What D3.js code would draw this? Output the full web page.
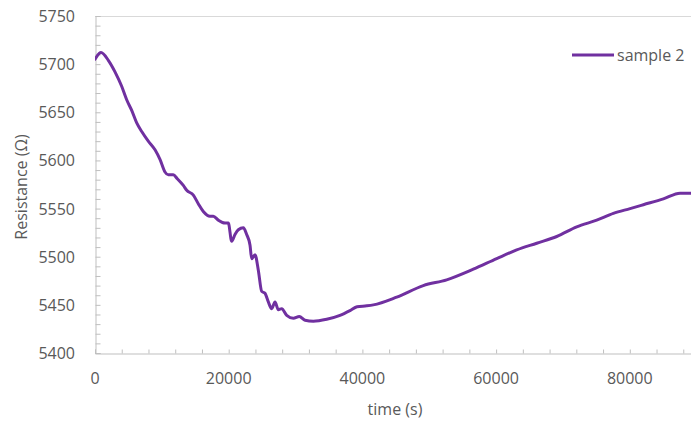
<!DOCTYPE html>
<html><head><meta charset="utf-8">
<script src="https://cdn.jsdelivr.net/npm/d3@7"></script>
<style>
html,body{margin:0;padding:0;background:#fff;}
svg text{font-family:"Open Sans",sans-serif;fill:#595959;}
</style></head>
<body><svg id="c" width="691" height="423"></svg>
<script>
const seriesName = "sample 2";
const timeS = [0,900,1990,2990,3990,4740,5490,6240,6990,7970,8980,9720,10470,10970,11710,12310,13210,13720,14710,15450,16200,17200,17700,18450,19450,19940,20450,20940,21440,22190,22690,23190,23440,23940,24430,24940,25430,25930,26430,26930,27420,27930,28680,29670,30560,31420,32660,34660,36650,38150,39200,40650,41630,45130,49110,52610,56590,60090,63080,66080,69070,72060,75050,77540,80040,82030,85020,87520,89160,90000];
const resistance = [5705,5712,5704,5692,5677,5663,5652,5639,5630,5620,5611,5601,5588,5585,5585,5581,5574,5569,5564,5555,5547,5542,5542,5538,5535,5535,5516,5523,5528,5530,5523,5512,5498,5502,5486,5464,5462,5453,5446,5453,5445,5446,5439,5436,5438,5434,5433,5435,5439,5444,5448,5449,5450,5458,5470,5476,5487,5498,5507,5514,5521,5531,5538,5545,5550,5554,5560,5566,5566,5567];
const xTickLabels = [0,20000,40000,60000,80000];
const yTickLabels = [5400,5450,5500,5550,5600,5650,5700,5750];

const svg = d3.select("#c");
const L = 95, T = 16, B = 353;
const x = d3.scaleLinear().domain([0,90000]).range([L, L + 133.7*4.5]);
const y = d3.scaleLinear().domain([5400,5750]).range([B, T]);
const axisColor = "#bfbfbf";

// top border
svg.append("line").attr("x1",L).attr("x2",691).attr("y1",T+0.5).attr("y2",T+0.5)
  .attr("stroke","#d9d9d9").attr("stroke-width",1);

// y axis
const yAx = svg.append("g").attr("transform",`translate(${L+0.5},0)`)
  .call(d3.axisRight(y).tickValues(d3.range(5400,5751,10)).tickSize(5).tickFormat(""));
yAx.select(".domain").attr("stroke",axisColor);
yAx.selectAll(".tick line").attr("stroke",axisColor);
svg.append("g").selectAll("text").data(yTickLabels).join("text")
  .attr("x",75).attr("y",d=>y(d)).attr("text-anchor","end").attr("dominant-baseline","central")
  .attr("font-size",16).text(d=>d);

// x axis
const xAx = svg.append("g").attr("transform",`translate(0,${B+0.5})`)
  .call(d3.axisTop(x).tickValues(d3.range(0,90001,4000)).tickSize(4).tickFormat(""));
xAx.select(".domain").attr("stroke",axisColor);
xAx.selectAll(".tick line").attr("stroke",axisColor);
svg.append("g").selectAll("text").data(xTickLabels).join("text")
  .attr("x",d=>x(d)).attr("y",378).attr("text-anchor","middle").attr("dominant-baseline","central")
  .attr("font-size",16).text(d=>d);

// titles
svg.append("text").attr("x",395).attr("y",409).attr("text-anchor","middle")
  .attr("dominant-baseline","central").attr("font-size",16).text("time (s)");
svg.append("text").attr("transform","translate(21,187) rotate(-90)").attr("text-anchor","middle")
  .attr("dominant-baseline","central").attr("font-size",16).text("Resistance (Ω)");

// clip
svg.append("clipPath").attr("id","clip").append("rect")
  .attr("x",L).attr("y",0).attr("width",700).attr("height",B+2);

const data = timeS.map((t,i)=>({t, r: resistance[i]}));
svg.append("path").datum(data).attr("clip-path","url(#clip)")
  .attr("fill","none").attr("stroke","#7030a0").attr("stroke-width",3)
  .attr("stroke-linejoin","round").attr("stroke-linecap","round")
  .attr("d", d3.line().x(d=>x(d.t)).y(d=>y(d.r)).curve(d3.curveMonotoneX));

// legend
svg.append("line").attr("x1",572).attr("x2",614).attr("y1",55).attr("y2",55)
  .attr("stroke","#7030a0").attr("stroke-width",3);
svg.append("text").attr("x",617).attr("y",55).attr("dominant-baseline","central")
  .attr("font-size",16).text(seriesName);
</script></body></html>
